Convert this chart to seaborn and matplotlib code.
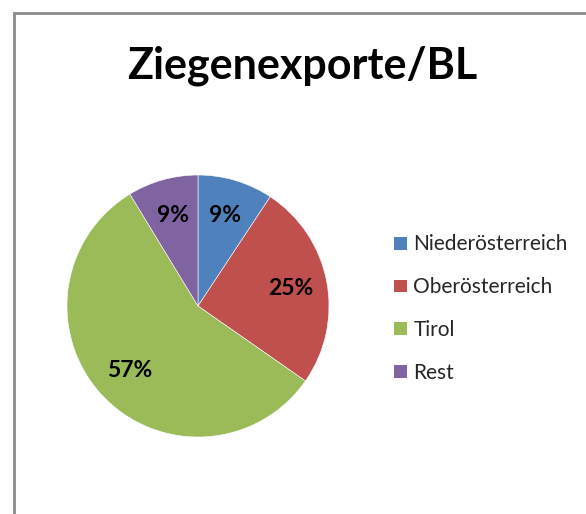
import matplotlib
matplotlib.use("Agg")
import matplotlib.pyplot as plt
import seaborn as sns
from matplotlib.patches import Patch, Rectangle

categories = ["Niederösterreich", "Oberösterreich", "Tirol", "Rest"]
values = [9.3, 25.4, 56.6, 8.7]
colors = ["#4F81BD", "#C0504D", "#9BBB59", "#8064A2"]
title = "Ziegenexporte/BL"

sns.set_theme(style="white")
plt.rcParams["font.family"] = ["Lato", "DejaVu Sans"]

W, H = 586, 514
fig = plt.figure(figsize=(W / 100, H / 100), dpi=100)
fig.patch.set_facecolor("white")

# chart frame
fig.patches.append(Rectangle((13.5 / W, -0.1), 1.2, 1.1 - 13.5 / H,
                             transform=fig.transFigure, fill=False,
                             edgecolor="#8a8a8a", linewidth=2.0))

cx, cy, r = 198, 306, 131
ax = fig.add_axes([(cx - r) / W, (H - cy - r) / H, 2 * r / W, 2 * r / H])
wedges, texts, autotexts = ax.pie(
    values, colors=colors, startangle=90, counterclock=False,
    autopct=lambda p: f"{p:.0f}%", pctdistance=0.72,
    wedgeprops=dict(edgecolor="white", linewidth=0.4),
    textprops=dict(fontsize=16.5, fontweight="bold", color="black"))
ax.set_xlim(-1, 1)
ax.set_ylim(-1, 1)
ax.set_aspect("equal")

fig.text(302 / W, 1 - 66 / H, title, ha="center", va="center",
         fontsize=31, fontweight="bold", color="black")

handles = [Patch(facecolor=c, edgecolor="none") for c in colors]
fig.legend(handles, categories, loc="upper left",
           bbox_to_anchor=(384 / W, 1 - 224 / H), frameon=False,
           fontsize=15, handlelength=0.58, handleheight=0.58,
           handletextpad=0.33, labelspacing=1.10, borderpad=0)

fig.savefig("out.png", dpi=100, facecolor="white")
